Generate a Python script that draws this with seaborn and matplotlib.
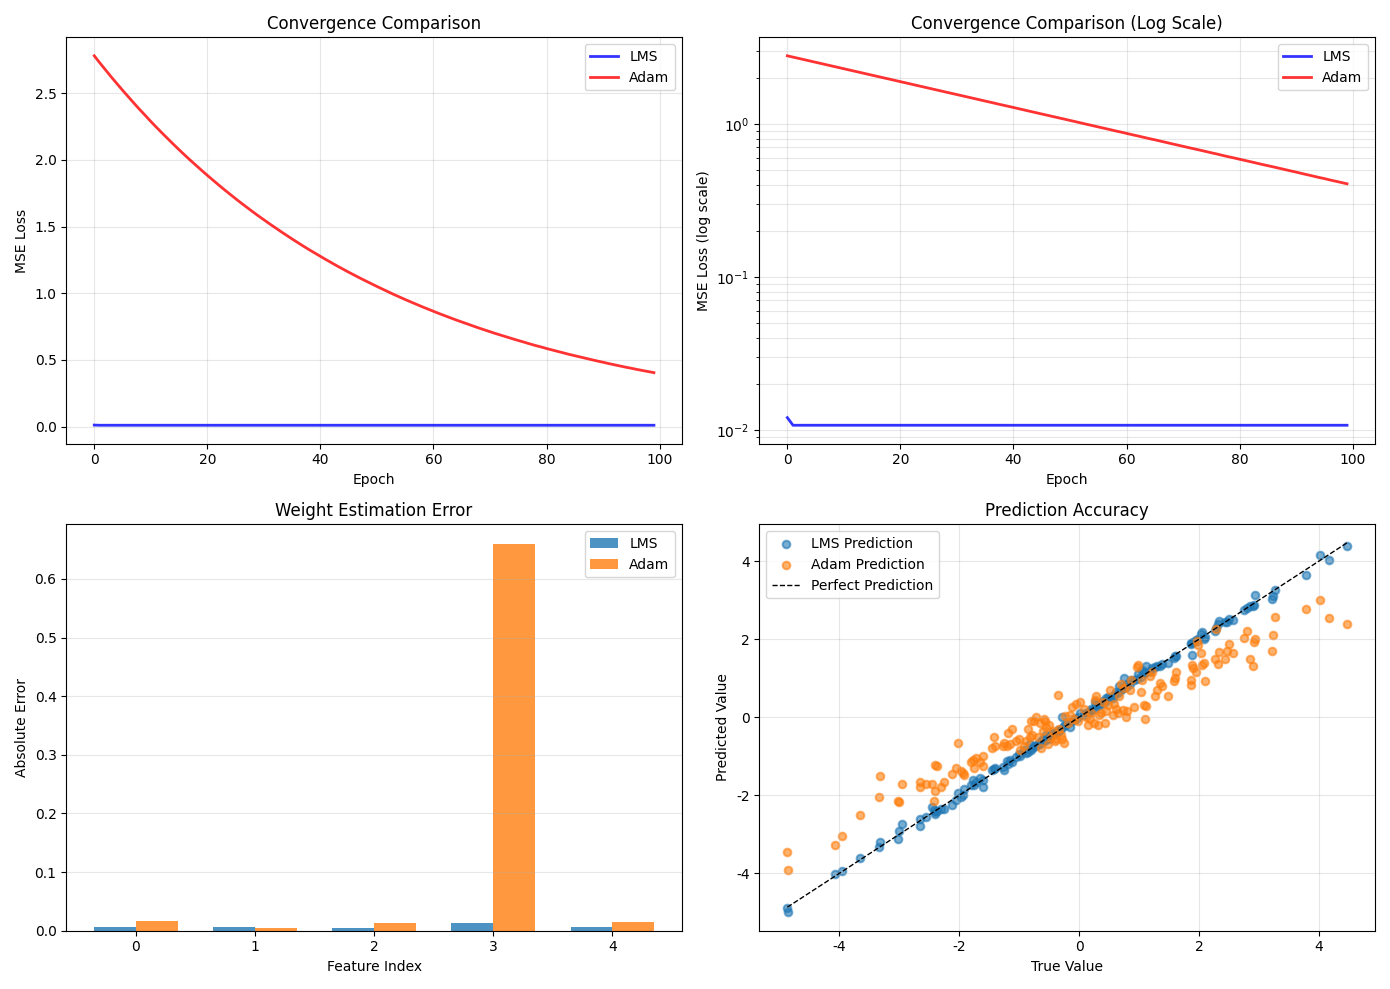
import numpy as np
import pandas as pd
import matplotlib
matplotlib.use("Agg")
import matplotlib.pyplot as plt
import seaborn as sns

plt.rcParams["axes.unicode_minus"] = False

# Training loss per epoch
epochs = np.arange(100)
lms_loss = [0.0120] + [
    0.0107, 0.0107, 0.0107, 0.0107, 0.0107, 0.0107, 0.0107, 0.0107, 0.0107, 0.0107,
    0.0107, 0.0107, 0.0107, 0.0107, 0.0107, 0.0107, 0.0107, 0.0107, 0.0107, 0.0107,
    0.0107, 0.0107, 0.0107, 0.0107, 0.0107, 0.0107, 0.0107, 0.0107, 0.0107, 0.0107,
    0.0107, 0.0107, 0.0107, 0.0107, 0.0107, 0.0107, 0.0107, 0.0107, 0.0107, 0.0107,
    0.0107, 0.0107, 0.0107, 0.0107, 0.0107, 0.0107, 0.0107, 0.0107, 0.0107, 0.0107,
    0.0107, 0.0107, 0.0107, 0.0107, 0.0107, 0.0107, 0.0107, 0.0107, 0.0107, 0.0107,
    0.0107, 0.0107, 0.0107, 0.0107, 0.0107, 0.0107, 0.0107, 0.0107, 0.0107, 0.0107,
    0.0107, 0.0107, 0.0107, 0.0107, 0.0107, 0.0107, 0.0107, 0.0107, 0.0107, 0.0107,
    0.0107, 0.0107, 0.0107, 0.0107, 0.0107, 0.0107, 0.0107, 0.0107, 0.0107, 0.0107,
    0.0107, 0.0107, 0.0107, 0.0107, 0.0107, 0.0107, 0.0107, 0.0107, 0.0107]
adam_loss = [
    2.780, 2.726, 2.674, 2.622, 2.572, 2.522, 2.474, 2.426, 2.379, 2.334,
    2.288, 2.244, 2.201, 2.159, 2.117, 2.076, 2.036, 1.997, 1.959, 1.921,
    1.884, 1.848, 1.812, 1.777, 1.743, 1.709, 1.676, 1.644, 1.612, 1.581,
    1.551, 1.521, 1.492, 1.463, 1.435, 1.407, 1.380, 1.353, 1.327, 1.302,
    1.277, 1.252, 1.228, 1.204, 1.181, 1.158, 1.136, 1.114, 1.093, 1.072,
    1.051, 1.031, 1.011, 0.991, 0.972, 0.953, 0.935, 0.917, 0.899, 0.882,
    0.865, 0.848, 0.832, 0.816, 0.800, 0.785, 0.770, 0.755, 0.740, 0.726,
    0.712, 0.698, 0.685, 0.672, 0.659, 0.646, 0.634, 0.621, 0.609, 0.598,
    0.586, 0.575, 0.564, 0.553, 0.542, 0.532, 0.522, 0.512, 0.502, 0.492,
    0.483, 0.473, 0.464, 0.455, 0.446, 0.438, 0.429, 0.421, 0.413, 0.405]

# Absolute weight error per feature
features = [0, 1, 2, 3, 4]
lms_weight_err = [0.007, 0.007, 0.004, 0.014, 0.007]
adam_weight_err = [0.017, 0.005, 0.014, 0.660, 0.015]

# Test set: true value, LMS prediction, Adam prediction
y_true = [
    4.47, 4.17, 4.02, 3.79, 3.27, 3.23, 3.21, 2.93, 2.91, 2.90,
    2.85, 2.80, 2.75, 2.57, 2.50, 2.46, 2.44, 2.33, 2.31, 2.28,
    2.26, 2.10, 2.08, 2.05, 2.03, 1.99, 1.97, 1.95, 1.90, 1.88,
    1.87, 1.86, 1.61, 1.60, 1.59, 1.48, 1.38, 1.35, 1.30, 1.27,
    1.22, 1.18, 1.12, 1.10, 1.08, 1.05, 1.03, 0.98, 0.96, 0.92,
    0.87, 0.84, 0.80, 0.78, 0.75, 0.73, 0.70, 0.67, 0.64, 0.62,
    0.58, 0.56, 0.51, 0.48, 0.45, 0.43, 0.40, 0.37, 0.33, 0.31,
    0.28, 0.26, 0.24, 0.20, 0.18, 0.15, 0.12, 0.08, 0.02, -0.02,
    -0.05, -0.08, -0.12, -0.16, -0.19, -0.24, -0.26, -0.28, -0.30, -0.33,
    -0.35, -0.38, -0.41, -0.44, -0.47, -0.50, -0.52, -0.55, -0.57, -0.59,
    -0.61, -0.63, -0.66, -0.69, -0.72, -0.75, -0.78, -0.80, -0.82, -0.86,
    -0.89, -0.92, -0.98, -1.00, -1.05, -1.12, -1.15, -1.18, -1.20, -1.25,
    -1.27, -1.40, -1.42, -1.46, -1.60, -1.61, -1.65, -1.73, -1.76, -1.78,
    -1.80, -1.92, -1.94, -1.97, -2.02, -2.05, -2.12, -2.25, -2.30, -2.38,
    -2.40, -2.41, -2.42, -2.45, -2.55, -2.65, -2.66, -2.95, -3.03, -3.00,
    -3.33, -3.34, -3.65, -3.95, -4.07, -4.87, -4.86]
lms_pred = [
    4.40, 4.04, 4.17, 3.65, 3.27, 3.10, 3.02, 3.12, 2.88, 2.86,
    2.85, 2.80, 2.75, 2.50, 2.52, 2.43, 2.45, 2.47, 2.38, 2.28,
    2.20, 2.05, 2.00, 2.18, 2.12, 2.00, 1.95, 1.98, 1.92, 1.60,
    1.90, 1.88, 1.58, 1.56, 1.53, 1.38, 1.37, 1.30, 1.30, 1.28,
    1.25, 1.18, 1.30, 1.12, 1.15, 1.20, 1.02, 1.10, 0.98, 0.95,
    0.95, 0.85, 0.85, 0.78, 1.00, 0.75, 0.70, 0.80, 0.62, 0.65,
    0.58, 0.50, 0.50, 0.52, 0.48, 0.40, 0.42, 0.35, 0.35, 0.28,
    0.30, 0.40, 0.22, 0.20, 0.15, 0.12, 0.10, 0.05, 0.10, 0.00,
    -0.05, -0.05, -0.10, -0.25, -0.15, -0.20, -0.22, 0.00, -0.30, -0.35,
    -0.32, -0.40, -0.42, -0.40, -0.45, -0.55, -0.50, -0.45, -0.58, -0.62,
    -0.55, -0.60, -0.70, -0.68, -0.75, -0.75, -0.80, -0.85, -0.70, -0.90,
    -0.92, -0.85, -1.00, -0.95, -1.02, -1.15, -1.10, -1.20, -1.12, -1.35,
    -1.28, -1.30, -1.32, -1.35, -1.60, -1.80, -1.55, -1.65, -1.75, -1.62,
    -1.75, -1.85, -2.00, -2.05, -1.95, -2.12, -2.25, -2.35, -2.35, -2.40,
    -2.48, -2.42, -2.38, -2.30, -2.55, -2.62, -2.78, -2.75, -3.12, -2.92,
    -3.20, -3.32, -3.60, -3.95, -4.02, -4.88, -5.00]
adam_pred = [
    2.40, 2.54, 3.00, 2.77, 2.58, 2.10, 1.70, 2.00, 1.93, 1.32,
    1.50, 2.20, 2.04, 1.64, 1.88, 1.70, 1.50, 1.67, 1.36, 2.25,
    1.50, 0.93, 1.40, 1.34, 1.65, 1.85, 1.95, 1.15, 1.25, 1.35,
    0.95, 0.83, 1.15, 1.00, 0.92, 0.55, 0.80, 0.88, 0.70, 0.55,
    1.15, 1.05, 0.28, -0.05, 0.30, 0.95, 0.65, 1.33, 1.28, 0.25,
    0.95, 0.70, 0.15, 0.00, 0.75, 0.18, 0.85, 0.55, 0.10, 0.20,
    0.35, 0.05, 0.70, 0.30, 0.15, -0.15, 0.40, 0.10, 0.05, -0.20,
    0.55, 0.45, -0.15, 0.10, -0.05, -0.20, 0.00, 0.20, 0.40, -0.10,
    0.35, -0.05, 0.25, 0.05, -0.15, 0.02, -0.65, -0.55, -0.45, -0.30,
    0.56, -0.55, -0.60, -0.35, -0.50, -0.20, -0.70, -0.25, -0.10, -0.05,
    -0.35, -0.80, -0.15, -0.50, 0.00, -0.10, -0.45, -0.10, -0.50, -0.30,
    -0.60, -0.75, -0.85, -0.55, -0.60, -0.30, -0.70, -0.40, -0.75, -0.65,
    -0.75, -0.75, -0.50, -0.80, -1.00, -1.25, -1.15, -1.05, -1.30, -1.10,
    -1.15, -1.48, -1.42, -1.38, -0.65, -1.30, -1.45, -1.65, -1.80, -1.25,
    -1.22, -1.90, -2.15, -1.70, -1.70, -1.65, -1.80, -1.70, -2.15, -2.18,
    -1.50, -2.05, -2.50, -3.05, -3.27, -3.45, -3.92]

loss_df = pd.DataFrame({"Epoch": epochs, "LMS": lms_loss, "Adam": adam_loss})
err_df = pd.DataFrame({
    "Feature": features * 2,
    "Error": lms_weight_err + adam_weight_err,
    "Method": ["LMS"] * 5 + ["Adam"] * 5,
})
pred_df = pd.DataFrame({"True": y_true, "LMS": lms_pred, "Adam": adam_pred})

fig, axes = plt.subplots(2, 2, figsize=(13.9, 9.89))

# Linear scale convergence
ax = axes[0, 0]
sns.lineplot(data=loss_df, x="Epoch", y="LMS", color="b", alpha=0.8, linewidth=2, label="LMS", ax=ax)
sns.lineplot(data=loss_df, x="Epoch", y="Adam", color="r", alpha=0.8, linewidth=2, label="Adam", ax=ax)
ax.set_xlabel("Epoch")
ax.set_ylabel("MSE Loss")
ax.set_title("Convergence Comparison")
ax.legend(loc="upper right")
ax.grid(True, alpha=0.3)

# Log scale convergence
ax = axes[0, 1]
sns.lineplot(data=loss_df, x="Epoch", y="LMS", color="b", alpha=0.8, linewidth=2, label="LMS", ax=ax)
sns.lineplot(data=loss_df, x="Epoch", y="Adam", color="r", alpha=0.8, linewidth=2, label="Adam", ax=ax)
ax.set_yscale("log")
ax.set_xlabel("Epoch")
ax.set_ylabel("MSE Loss (log scale)")
ax.set_title("Convergence Comparison (Log Scale)")
ax.legend(loc="upper right")
ax.grid(True, which="both", alpha=0.3)

# Weight error bars
ax = axes[1, 0]
sns.barplot(data=err_df, x="Feature", y="Error", hue="Method",
            palette=["#1f77b4", "#ff7f0e"], width=0.7, saturation=1,
            alpha=0.8, errorbar=None, ax=ax)
ax.autoscale(enable=True, axis="x")
ax.margins(x=0.05)
handles, labels = ax.get_legend_handles_labels()
ax.legend(handles, labels, loc="upper right")
ax.set_xlabel("Feature Index")
ax.set_ylabel("Absolute Error")
ax.set_title("Weight Estimation Error")
ax.grid(True, axis="y", alpha=0.3)

# Prediction scatter
ax = axes[1, 1]
sns.scatterplot(data=pred_df, x="True", y="LMS", color="#1f77b4", alpha=0.6, s=30,
                edgecolor="face", linewidth=1.5, label="LMS Prediction", ax=ax)
sns.scatterplot(data=pred_df, x="True", y="Adam", color="#ff7f0e", alpha=0.6, s=30,
                edgecolor="face", linewidth=1.5, label="Adam Prediction", ax=ax)
lo, hi = min(y_true), max(y_true)
ax.plot([lo, hi], [lo, hi], "k--", linewidth=1, label="Perfect Prediction")
ax.set_xlabel("True Value")
ax.set_ylabel("Predicted Value")
ax.set_title("Prediction Accuracy")
ax.legend(loc="upper left")
ax.grid(True, alpha=0.3)

plt.tight_layout()
plt.savefig("out.png", dpi=100)
